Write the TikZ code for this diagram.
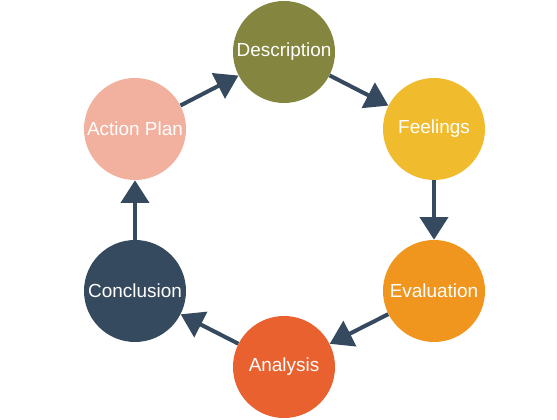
\documentclass[tikz,border=0pt]{standalone}
\usepackage{fontspec}
\setmainfont{Liberation Sans}
\usetikzlibrary{arrows.meta}

\definecolor{cDesc}{RGB}{132,134,64}
\definecolor{cFeel}{RGB}{240,188,46}
\definecolor{cEval}{RGB}{240,150,30}
\definecolor{cAnal}{RGB}{234,97,48}
\definecolor{cConc}{RGB}{54,74,95}
\definecolor{cPlan}{RGB}{242,176,158}
\definecolor{cArrow}{RGB}{54,74,95}

\tikzset{
  stage/.style={circle, minimum size=76.5pt, inner sep=0pt, text=white, font=\fontsize{14.2}{16}\selectfont},
  flow/.style={draw=cArrow, line width=3pt, -{Triangle[length=17pt,width=21pt]}}
}

\begin{document}
\begin{tikzpicture}[x=0.75pt,y=0.75pt,yscale=-1,xscale=1]
\useasboundingbox (0,0) rectangle (557,420);

% Stages
\node [stage, fill=cDesc] (description) at (284,52) {Description};
\node [stage, fill=cFeel] (feelings) at (434,129) {Feelings};
\node [stage, fill=cEval] (evaluation) at (434,291) {Evaluation};
\node [stage, fill=cAnal] (analysis) at (284,367) {Analysis};
\node [stage, fill=cConc] (conclusion) at (135,291) {Conclusion};
\node [stage, fill=cPlan] (actionplan) at (135,129) {Action Plan};

% Cycle
\draw [flow] (description) -- (feelings);
\draw [flow] (feelings) -- (evaluation);
\draw [flow] (evaluation) -- (analysis);
\draw [flow] (analysis) -- (conclusion);
\draw [flow] (conclusion) -- (actionplan);
\draw [flow] (actionplan) -- (description);

\end{tikzpicture}
\end{document}
